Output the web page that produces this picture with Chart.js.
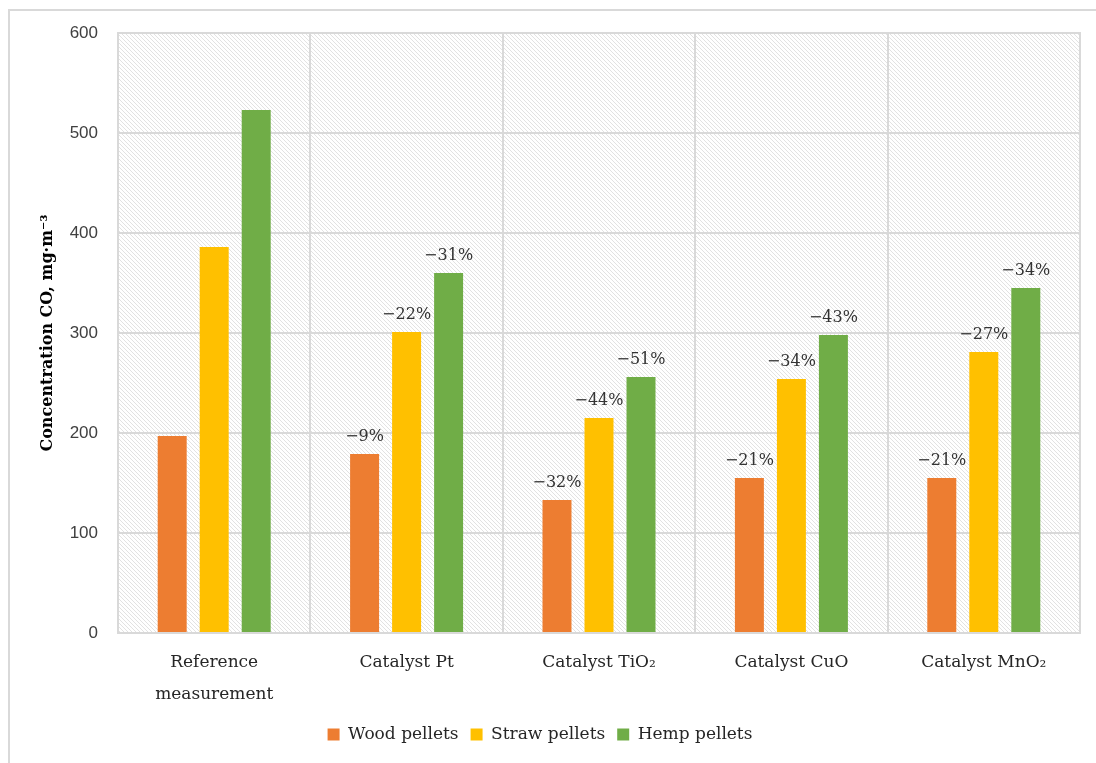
<!DOCTYPE html>
<html>
<head>
<meta charset="utf-8">
<script src="https://cdn.jsdelivr.net/npm/chart.js@4.4.1/dist/chart.umd.min.js"></script>
<style>
  html, body { margin: 0; padding: 0; background: #ffffff; }
  #wrap { width: 1096px; height: 763px; position: relative; }
</style>
</head>
<body>
<div id="wrap"><canvas id="c" width="1096" height="763"></canvas></div>
<script>
// Categories (catalyst variants)
const categories = [
  ['Reference', 'measurement'],
  'Catalyst Pt',
  'Catalyst TiO\u2082',
  'Catalyst CuO',
  'Catalyst MnO\u2082'
];

// CO concentration, mg·m-3
const woodPellets  = [197, 179, 133, 155, 155];
const strawPellets = [386, 301, 215, 254, 281];
const hempPellets  = [523, 360, 256, 298, 345];

// Reduction relative to reference measurement
const woodChange  = ['', '\u22129%',  '\u221232%', '\u221221%', '\u221221%'];
const strawChange = ['', '\u221222%', '\u221244%', '\u221234%', '\u221227%'];
const hempChange  = ['', '\u221231%', '\u221251%', '\u221243%', '\u221234%'];

const yTicks = [0, 100, 200, 300, 400, 500, 600];

const SERIF = '"DejaVu Serif", serif';
const SANS = '"Liberation Sans", Arial, sans-serif';

// Diagonal hatch tile used as the plot-area background
function makeHatch() {
  const t = document.createElement('canvas');
  t.width = 4; t.height = 4;
  const g = t.getContext('2d');
  g.fillStyle = '#ffffff';
  g.fillRect(0, 0, 4, 4);
  g.strokeStyle = '#e2e2e2';
  g.lineWidth = 1;
  g.beginPath();
  g.moveTo(-1, -1); g.lineTo(5, 5);
  g.moveTo(-1, 3); g.lineTo(1, 5);
  g.moveTo(3, -1); g.lineTo(5, 1);
  g.stroke();
  return t;
}

const hatchPlugin = {
  id: 'hatchBg',
  beforeDraw(chart) {
    const { ctx, chartArea: a } = chart;
    const pat = ctx.createPattern(makeHatch(), 'repeat');
    ctx.save();
    // outer frame of the figure
    ctx.strokeStyle = '#d9d9d9';
    ctx.lineWidth = 2;
    ctx.strokeRect(9, 10, 1200, 900);
    ctx.fillStyle = pat;
    ctx.fillRect(a.left, a.top, a.right - a.left, a.bottom - a.top);
    ctx.restore();
  },
  afterDraw(chart) {
    const { ctx, chartArea: a } = chart;
    ctx.save();
    ctx.strokeStyle = '#d9d9d9';
    ctx.lineWidth = 2;
    ctx.strokeRect(a.left, a.top, a.right - a.left, a.bottom - a.top);
    ctx.restore();
  }
};

// Percentage labels above the bars
const changeLabels = [woodChange, strawChange, hempChange];
const labelPlugin = {
  id: 'changeLabels',
  afterDatasetsDraw(chart) {
    const { ctx } = chart;
    ctx.save();
    ctx.font = '16px ' + SERIF;
    ctx.fillStyle = '#333333';
    ctx.textAlign = 'center';
    ctx.textBaseline = 'alphabetic';
    chart.data.datasets.forEach((ds, i) => {
      const meta = chart.getDatasetMeta(i);
      meta.data.forEach((bar, j) => {
        const txt = changeLabels[i][j];
        if (txt) ctx.fillText(txt, bar.x, bar.y - 13);
      });
    });
    ctx.restore();
  }
};

new Chart(document.getElementById('c'), {
  type: 'bar',
  data: {
    labels: categories,
    datasets: [
      { label: 'Wood pellets',  data: woodPellets,  backgroundColor: '#ed7d31' },
      { label: 'Straw pellets', data: strawPellets, backgroundColor: '#ffc000' },
      { label: 'Hemp pellets',  data: hempPellets,  backgroundColor: '#70ad47' }
    ]
  },
  options: {
    responsive: false,
    animation: false,
    devicePixelRatio: 1,
    categoryPercentage: 0.655,
    barPercentage: 0.69,
    layout: { padding: { left: 0, right: 16, top: 33, bottom: 10 } },
    plugins: {
      tooltip: { enabled: false },
      legend: {
        position: 'bottom',
        labels: {
          boxWidth: 12,
          boxHeight: 12,
          padding: 12,
          color: '#262626',
          font: { family: SERIF, size: 17 }
        }
      }
    },
    scales: {
      x: {
        grid: { color: '#d9d9d9', lineWidth: 2, drawTicks: false },
        border: { display: false },
        ticks: {
          color: '#262626',
          font: { family: SERIF, size: 17, lineHeight: 1.9 },
          padding: 13,
          maxRotation: 0
        },
        afterFit(s) { s.height = 81; }
      },
      y: {
        min: 0,
        max: 600,
        afterBuildTicks(s) { s.ticks = yTicks.map(v => ({ value: v })); },
        grid: { color: '#d9d9d9', lineWidth: 2, drawTicks: false },
        border: { display: false },
        ticks: {
          color: '#404040',
          font: { family: SANS, size: 17 },
          padding: 20
        },
        title: {
          display: true,
          text: 'Concentration CO, mg\u00b7m\u207b\u00b3',
          color: '#000000',
          font: { family: SERIF, size: 16, weight: 'bold' },
          padding: { top: 38, bottom: 4 }
        },
        afterFit(s) { s.width = 118; }
      }
    }
  },
  plugins: [hatchPlugin, labelPlugin]
});
</script>
</body>
</html>
